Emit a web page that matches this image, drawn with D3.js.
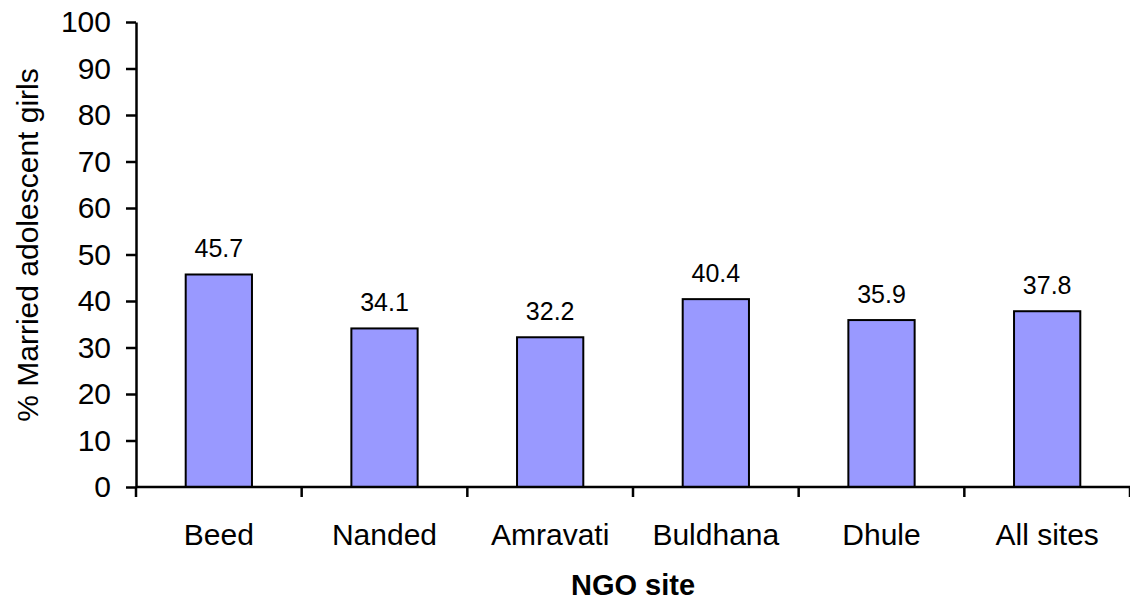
<!DOCTYPE html>
<html>
<head>
<meta charset="utf-8">
<script src="https://cdn.jsdelivr.net/npm/d3@7"></script>
<style>
  html, body { margin: 0; padding: 0; background: #fff; }
  svg { display: block; font-family: "Liberation Sans", Arial, sans-serif; }
</style>
</head>
<body>
<svg id="chart" width="1130" height="606"></svg>
<script>
// NGO sites and share of married adolescent girls (%)
const sites = ["Beed", "Nanded", "Amravati", "Buldhana", "Dhule", "All sites"];
const marriedPct = [45.7, 34.1, 32.2, 40.4, 35.9, 37.8];
const yTicks = [0, 10, 20, 30, 40, 50, 60, 70, 80, 90, 100];

const svg = d3.select("#chart");
const margin = { left: 136, right: 0, top: 22, bottom: 119 };
const W = 1130, H = 606;
const FONT = "Liberation Sans, Arial, sans-serif";

const x = d3.scaleBand()
  .domain(sites)
  .range([margin.left, W - margin.right])
  .paddingInner(0.6)
  .paddingOuter(0.3);

const y = d3.scaleLinear()
  .domain([0, 100])
  .range([H - margin.bottom, margin.top]);

// bars
svg.append("g")
  .selectAll("rect")
  .data(sites)
  .join("rect")
  .attr("x", d => x(d))
  .attr("y", (d, i) => y(marriedPct[i]))
  .attr("width", x.bandwidth())
  .attr("height", (d, i) => y(0) - y(marriedPct[i]))
  .attr("fill", "#9999ff")
  .attr("stroke", "#000")
  .attr("stroke-width", 2);

// value labels
svg.append("g")
  .selectAll("text")
  .data(sites)
  .join("text")
  .attr("x", d => x(d) + x.bandwidth() / 2)
  .attr("y", (d, i) => y(marriedPct[i]) - 17)
  .attr("text-anchor", "middle")
  .attr("font-size", 25)
  .attr("fill", "#000")
  .text((d, i) => marriedPct[i].toFixed(1));

// y axis
const yAxis = svg.append("g")
  .attr("transform", `translate(${margin.left},0)`)
  .call(d3.axisLeft(y).tickValues(yTicks).tickSize(10).tickPadding(15).tickSizeOuter(0));
yAxis.select(".domain").attr("stroke", "#000").attr("stroke-width", 2.5);
yAxis.selectAll(".tick line").attr("stroke", "#000").attr("stroke-width", 2.5);
yAxis.selectAll(".tick text").attr("font-size", 30).attr("fill", "#000")
  .attr("font-family", FONT);

// x axis: ticks at band boundaries
const xAxisG = svg.append("g");
xAxisG.append("line")
  .attr("x1", margin.left).attr("x2", W)
  .attr("y1", y(0)).attr("y2", y(0))
  .attr("stroke", "#000").attr("stroke-width", 2.5);
const step = x.step();
const boundaries = d3.range(sites.length + 1).map(i => margin.left + i * step);
xAxisG.selectAll("line.tk")
  .data(boundaries)
  .join("line")
  .attr("class", "tk")
  .attr("x1", d => d).attr("x2", d => d)
  .attr("y1", y(0)).attr("y2", y(0) + 10)
  .attr("stroke", "#000").attr("stroke-width", 2.5);
xAxisG.selectAll("text")
  .data(sites)
  .join("text")
  .attr("x", d => x(d) + x.bandwidth() / 2)
  .attr("y", 545)
  .attr("text-anchor", "middle")
  .attr("font-size", 30)
  .attr("fill", "#000")
  .text(d => d);

// axis titles
svg.append("text")
  .attr("x", (margin.left + W) / 2)
  .attr("y", 595)
  .attr("text-anchor", "middle")
  .attr("font-size", 29)
  .attr("font-weight", "bold")
  .text("NGO site");

svg.append("text")
  .attr("transform", "translate(38,245) rotate(-90)")
  .attr("text-anchor", "middle")
  .attr("font-size", 30)
  .text("% Married adolescent girls");
</script>
</body>
</html>
